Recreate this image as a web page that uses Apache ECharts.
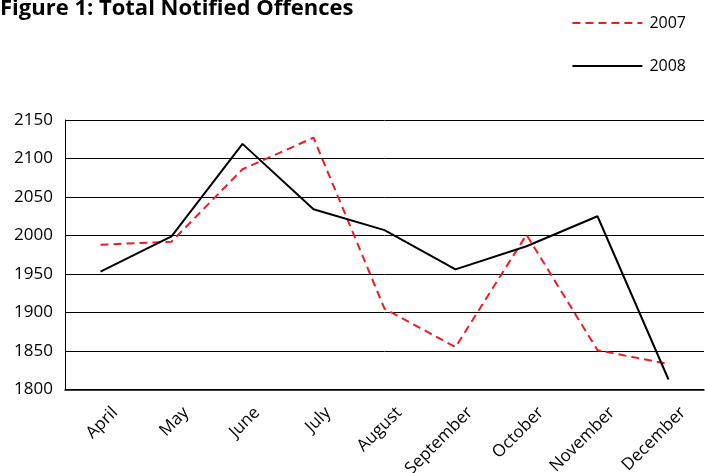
<!DOCTYPE html>
<html><head><meta charset="utf-8">
<script src="https://cdn.jsdelivr.net/npm/echarts@6/dist/echarts.min.js"></script>
<style>html,body{margin:0;padding:0;background:#fff}#c{width:705px;height:473px}</style>
</head><body><div id="c"></div>
<script>
const categories = ['April','May','June','July','August','September','October','November','December'];
const s2007 = [1988, 1992, 2086, 2127, 1905, 1855, 2001, 1851, 1833];
const s2008 = [1953, 1999, 2119, 2034, 2007, 1956, 1986, 2025, 1813];
const yTicks = {min: 1800, max: 2150, interval: 50};

const chart = echarts.init(document.getElementById('c'));
chart.setOption({
  animation: false,
  title: {text: 'Figure 1: Total Notified Offences', left: -5, top: -7,
    textStyle: {fontFamily: 'Open Sans', fontWeight: 'bold', fontSize: 22, color: '#000'}},
  legend: {orient: 'vertical', right: 14, top: 10, itemWidth: 70, itemHeight: 14, itemGap: 27,
    data: ['2007','2008'], itemStyle: {opacity: 0}, lineStyle: {width: 2},
    textStyle: {fontFamily: 'Open Sans', fontSize: 16, color: '#000', padding: [0,0,0,2]}},
  grid: {left: 65, right: 1, top: 120, bottom: 83.5, containLabel: false, outerBoundsMode: 'none'},
  xAxis: {type: 'category', data: categories, boundaryGap: true,
    axisLine: {lineStyle: {color: '#000', width: 1.5}},
    axisTick: {inside: true, length: 5, lineStyle: {color: '#000', width: 1}},
    axisLabel: {rotate: 45, interval: 0, margin: 6, padding: [12, 0, 0, 0], fontFamily: 'Open Sans', fontSize: 17, color: '#000', verticalAlign: 'top'}},
  yAxis: {type: 'value', min: yTicks.min, max: yTicks.max, interval: yTicks.interval,
    axisLine: {show: true, lineStyle: {color: '#000', width: 1}},
    axisTick: {show: false},
    splitLine: {lineStyle: {color: '#000', width: 1}},
    axisLabel: {margin: 12, fontFamily: 'Open Sans', fontSize: 17, color: '#000', formatter: v => String(v)}},
  series: [
    {name: '2007', type: 'line', data: s2007, symbol: 'none',
      lineStyle: {color: '#ED1C24', width: 2, type: [8, 5]}, itemStyle: {color: '#ED1C24'}},
    {name: '2008', type: 'line', data: s2008, symbol: 'none',
      lineStyle: {color: '#000', width: 2}, itemStyle: {color: '#000'}}
  ]
});
</script></body></html>
